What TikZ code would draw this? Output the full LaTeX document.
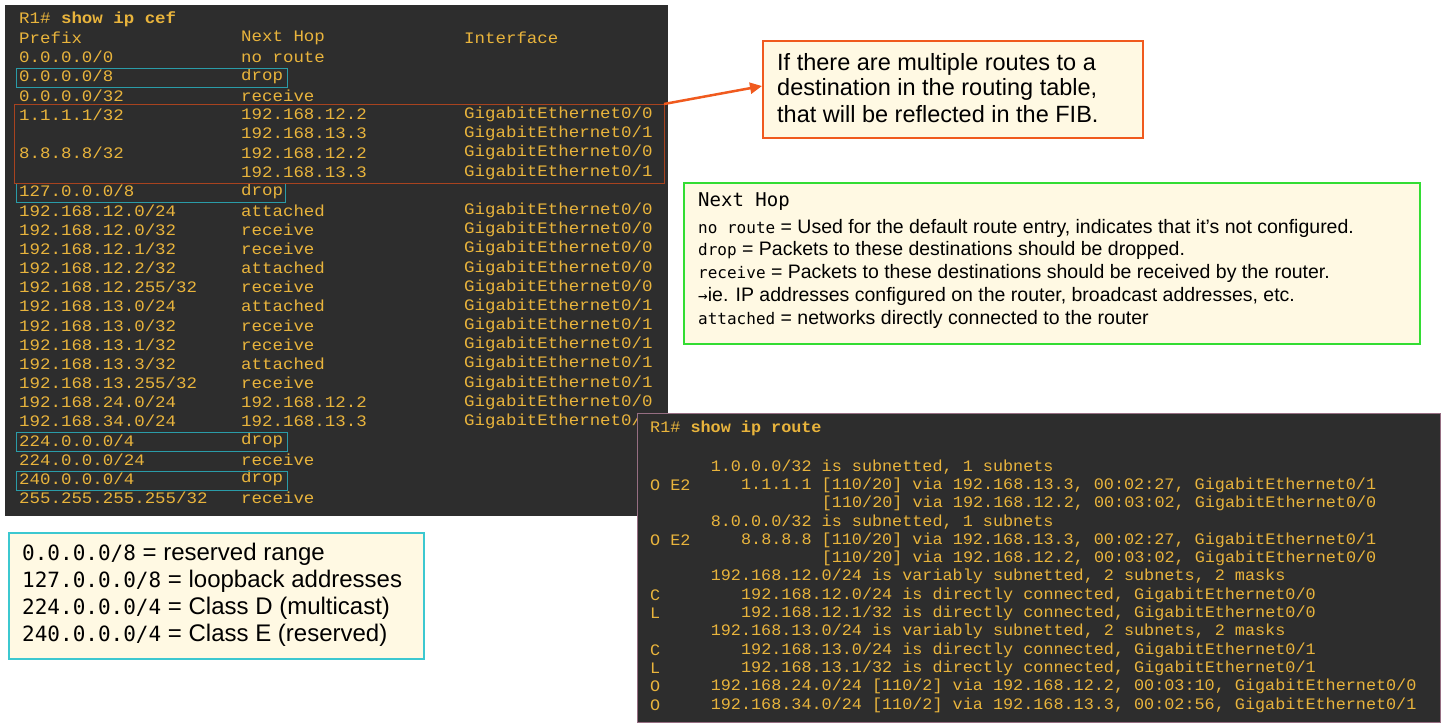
\documentclass[tikz,border=0pt]{standalone}
\usepackage{fontspec}
\setmainfont{Liberation Sans}
\newfontfamily\term[FakeStretch=1.09]{Liberation Mono}
\newfontfamily\termr[FakeStretch=1.05]{Liberation Mono}
\newfontfamily\mono{DejaVu Sans Mono}
\usetikzlibrary{arrows.meta}
\definecolor{tbg}{HTML}{2D2D2D}
\definecolor{tyel}{HTML}{E9B43C}
\definecolor{cyanb}{HTML}{2A9CA8}
\definecolor{redb}{HTML}{A8431F}
\definecolor{cream}{HTML}{FFF9E3}
\definecolor{orng}{HTML}{F05A1E}
\definecolor{grn}{HTML}{33DD33}
\definecolor{lcyan}{HTML}{3CC8D0}
\newcommand{\nhm}[1]{{\mono\fontsize{16}{16}\selectfont #1}}
\newcommand{\rsm}[1]{{\mono\fontsize{21}{21}\selectfont #1}}
\begin{document}
\begin{tikzpicture}[x=1pt,y=-1pt,
  t/.style={anchor=west,inner sep=0,text=tyel,font=\term\fontsize{16}{16}\selectfont},
  r/.style={anchor=west,inner sep=0,text=tyel,font=\termr\fontsize{16}{16}\selectfont},
  note/.style={anchor=west,inner sep=0,text=black},
  hl/.style={draw=cyanb,line width=1pt}]
\useasboundingbox (0,0) rectangle (1448,728);
\fill[white] (0,0) rectangle (1448,728);
% cef terminal
\fill[tbg] (5,5) rectangle (668,516);
\node[t] (c0) at (19,19) {R1\# \textbf{show ip cef}};
\node[t] (h1) at (19,38) {Prefix};
\node[t] (h2) at (241,38) {Next Hop};
\node[t] (h3) at (464,38) {Interface};
\foreach \p/\n/\i [count=\k] in {
 {0.0.0.0/0}/{no route}/{},
 {0.0.0.0/8}/{drop}/{},
 {0.0.0.0/32}/{receive}/{},
 {1.1.1.1/32}/{192.168.12.2}/{GigabitEthernet0/0},
 {}/{192.168.13.3}/{GigabitEthernet0/1},
 {8.8.8.8/32}/{192.168.12.2}/{GigabitEthernet0/0},
 {}/{192.168.13.3}/{GigabitEthernet0/1},
 {127.0.0.0/8}/{drop}/{},
 {192.168.12.0/24}/{attached}/{GigabitEthernet0/0},
 {192.168.12.0/32}/{receive}/{GigabitEthernet0/0},
 {192.168.12.1/32}/{receive}/{GigabitEthernet0/0},
 {192.168.12.2/32}/{attached}/{GigabitEthernet0/0},
 {192.168.12.255/32}/{receive}/{GigabitEthernet0/0},
 {192.168.13.0/24}/{attached}/{GigabitEthernet0/1},
 {192.168.13.0/32}/{receive}/{GigabitEthernet0/1},
 {192.168.13.1/32}/{receive}/{GigabitEthernet0/1},
 {192.168.13.3/32}/{attached}/{GigabitEthernet0/1},
 {192.168.13.255/32}/{receive}/{GigabitEthernet0/1},
 {192.168.24.0/24}/{192.168.12.2}/{GigabitEthernet0/0},
 {192.168.34.0/24}/{192.168.13.3}/{GigabitEthernet0/1},
 {224.0.0.0/4}/{drop}/{},
 {224.0.0.0/24}/{receive}/{},
 {240.0.0.0/4}/{drop}/{},
 {255.255.255.255/32}/{receive}/{}}{
  \pgfmathsetmacro\yy{57+(\k-1)*19.17}
  \node[t] (p\k) at (19,\yy) {\p};
  \node[t] (n\k) at (241,\yy) {\n};
  \node[t] (i\k) at (464,\yy) {\i};
}
% highlight boxes
\draw[hl] (16,68) rectangle (287,87);
\draw[hl] (16,183) rectangle (285,202);
\draw[hl] (16,432) rectangle (287,451);
\draw[hl] (16,471) rectangle (287,490);
\draw[draw=redb,line width=1pt] (14,104) rectangle (664,183);
\coordinate (rtr) at (664,104);
% callout
\node[draw=orng,line width=1.5pt,fill=cream,anchor=north west,minimum width=380pt,minimum height=97pt,inner sep=0] (call) at (762,40) {};
\begin{scope}[every node/.style={note,font=\fontsize{23.5}{24}\selectfont}]
\node (cl1) at (777,64) {If there are multiple routes to a};
\node (cl2) at (777,89) {destination in the routing table,};
\node (cl3) at (777,114) {that will be reflected in the FIB.};
\end{scope}
\draw[orng,line width=2.5pt,-{Triangle[length=12pt,width=11pt]}] (rtr) -- (call.west |- 0,86);
% Next hop box
\node[draw=grn,line width=2pt,fill=cream,anchor=north west,minimum width=736pt,minimum height=161pt,inner sep=0] (nh) at (683,182) {};
\node[note,font=\mono\fontsize{19}{19}\selectfont] (nh0) at (698,202) {Next Hop};
\begin{scope}[every node/.style={note,font=\fontsize{19.5}{20}\selectfont}]
\node (nh1) at (698,228) {\nhm{no route} = Used for the default route entry, indicates that it’s not configured.};
\node (nh2) at (698,250) {\nhm{drop} = Packets to these destinations should be dropped.};
\node (nh3) at (698,273) {\nhm{receive} = Packets to these destinations should be received by the router.};
\node (nh4) at (698,296) {\nhm{→}ie. IP addresses configured on the router, broadcast addresses, etc.};
\node (nh5) at (698,319) {\nhm{attached} = networks directly connected to the router};
\end{scope}
% bottom-left box
\node[draw=lcyan,line width=2pt,fill=cream,anchor=north west,minimum width=415pt,minimum height=126pt,inner sep=0] (res) at (8,532) {};
\begin{scope}[every node/.style={note,font=\fontsize{24}{24}\selectfont}]
\node (r1) at (22,554) {\rsm{0.0.0.0/8} = reserved range};
\node (r2) at (22,581) {\rsm{127.0.0.0/8} = loopback addresses};
\node (r3) at (22,608) {\rsm{224.0.0.0/4} = Class D (multicast)};
\node (r4) at (22,635) {\rsm{240.0.0.0/4} = Class E (reserved)};
\end{scope}
% route terminal
\node[draw={rgb,255:red,150;green,110;blue,130},line width=1pt,fill=tbg,anchor=north west,minimum width=803pt,minimum height=309pt,inner sep=0] (rt) at (637,413) {};
\node[r] (q0) at (650,428) {R1\# \textbf{show ip route}};
\foreach \c/\n/\l [count=\k] in {
 {}/6/{1.0.0.0/32 is subnetted, 1 subnets},
 {O E2}/9/{1.1.1.1 [110/20] via 192.168.13.3, 00:02:27, GigabitEthernet0/1},
 {}/17/{[110/20] via 192.168.12.2, 00:03:02, GigabitEthernet0/0},
 {}/6/{8.0.0.0/32 is subnetted, 1 subnets},
 {O E2}/9/{8.8.8.8 [110/20] via 192.168.13.3, 00:02:27, GigabitEthernet0/1},
 {}/17/{[110/20] via 192.168.12.2, 00:03:02, GigabitEthernet0/0},
 {}/6/{192.168.12.0/24 is variably subnetted, 2 subnets, 2 masks},
 {C}/9/{192.168.12.0/24 is directly connected, GigabitEthernet0/0},
 {L}/9/{192.168.12.1/32 is directly connected, GigabitEthernet0/0},
 {}/6/{192.168.13.0/24 is variably subnetted, 2 subnets, 2 masks},
 {C}/9/{192.168.13.0/24 is directly connected, GigabitEthernet0/1},
 {L}/9/{192.168.13.1/32 is directly connected, GigabitEthernet0/1},
 {O}/6/{192.168.24.0/24 [110/2] via 192.168.12.2, 00:03:10, GigabitEthernet0/0},
 {O}/6/{192.168.34.0/24 [110/2] via 192.168.13.3, 00:02:56, GigabitEthernet0/1}}{
  \pgfmathsetmacro\yy{467+(\k-1)*18.3}
  \node[r] (qc\k) at (650,\yy) {\c};
  \node[r] (q\k) at (650+\n*10.1,\yy) {\l};
}
\end{tikzpicture}
\end{document}
